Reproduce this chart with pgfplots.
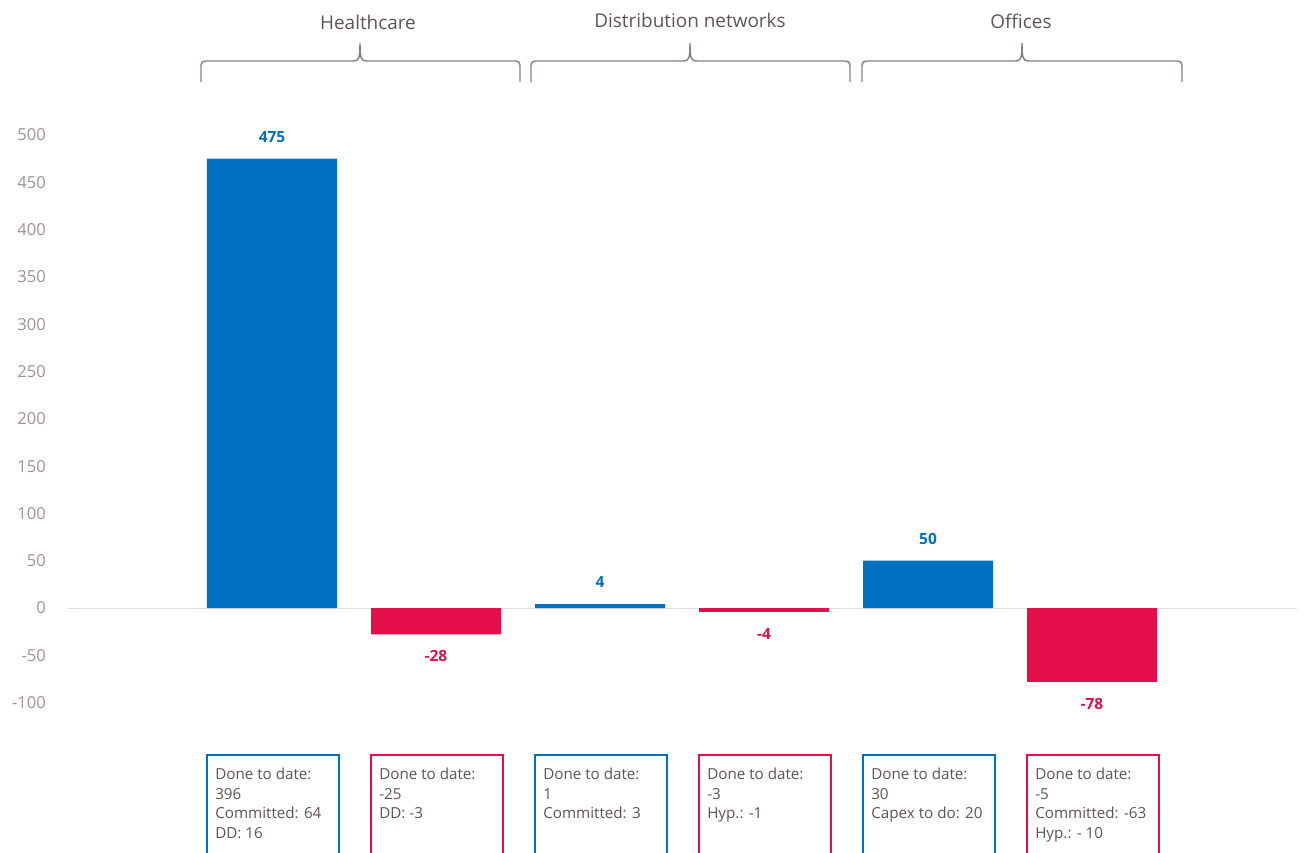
\documentclass[border=0pt]{standalone}
\usepackage{pgfplots}
\pgfplotsset{compat=1.18}
\usepackage{fontspec}
\setmainfont{Open Sans}
\definecolor{cblue}{HTML}{0070C0}
\definecolor{cred}{HTML}{E30E4A}
\definecolor{ctick}{HTML}{A0938F}
\definecolor{ctext}{HTML}{5E5452}
\definecolor{cbrace}{HTML}{8C807C}
\definecolor{czero}{HTML}{E3DEDD}
\newcommand\boxfont{\fontsize{11.4}{14.6}\selectfont}
\newcommand\infobox[3]{%
  \draw[#2, line width=0.8pt] ({#1-65},880) -- ({#1-65},755) -- ({#1+67},755) -- ({#1+67},880);
  \node[anchor=north west, inner sep=0pt, align=left, text=ctext, font=\boxfont] at ({#1-57},768) {#3};
}
\newcommand\catbrace[3]{%
  \draw[cbrace, line width=1.1pt, rounded corners=3pt] (#1,82) -- (#1,61) -- ({#2-6},61);
  \draw[cbrace, line width=1.1pt] ({#2-6.5},61) .. controls ({#2-1},61) and ({#2},58) .. (#2,43)
     .. controls ({#2},58) and ({#2+1},61) .. ({#2+6.5},61);
  \draw[cbrace, line width=1.1pt, rounded corners=3pt] ({#2+6},61) -- (#3,61) -- (#3,82);
}
\begin{document}
\begin{tikzpicture}
\begin{axis}[
  at={(50.25pt,-526.95pt)}, anchor=south west,
  scale only axis, width=922.5pt, height=425.7pt,
  xmin=-1.25, xmax=6.25, ymin=-100, ymax=500,
  ytick={-100,-50,...,500}, xtick=\empty,
  axis line style={draw=none}, major tick length=0pt,
  yticklabel style={font=\fontsize{12.4}{14}\selectfont, text=ctick, inner sep=0pt, anchor=east, xshift=-15.75pt},
  /pgf/number format/assume math mode=true,
  extra y ticks={0}, extra y tick labels={},
  extra y tick style={grid=major, major grid style={czero, line width=0.75pt}},
  ybar, bar width=97.5pt,
  nodes near coords,
  every node near coord/.append style={font=\bfseries\fontsize{11.6}{14}\selectfont, inner sep=0pt, inner ysep=12pt},
  clip=false,
]
\addplot[fill=cblue, draw=none, bar shift=0pt, every node near coord/.append style={text=cblue}]
  coordinates {(0,475) (2,4) (4,50)};
\addplot[fill=cred, draw=none, bar shift=0pt, every node near coord/.append style={text=cred}]
  coordinates {(1,-28) (3,-4) (5,-78)};
\end{axis}
\begin{scope}[x=0.75pt, y=-0.75pt]
  \catbrace{201}{360}{520}
  \catbrace{531}{690}{850}
  \catbrace{862}{1022}{1182}
  \node[font=\fontsize{14.2}{16}\selectfont, text=ctext] at (368,22) {Healthcare};
  \node[font=\fontsize{14.2}{16}\selectfont, text=ctext] at (690,20) {Distribution networks};
  \node[font=\fontsize{14.2}{16}\selectfont, text=ctext] at (1021,21) {Offices};
  \infobox{272}{cblue}{Done to date:\\396\\Committed: 64\\DD: 16}
  \infobox{436}{cred}{Done to date:\\-25\\DD: -3}
  \infobox{600}{cblue}{Done to date:\\1\\Committed: 3}
  \infobox{764}{cred}{Done to date:\\-3\\Hyp.: -1}
  \infobox{928}{cblue}{Done to date:\\30\\Capex to do: 20}
  \infobox{1092}{cred}{Done to date:\\-5\\Committed: -63\\Hyp.: - 10}
\end{scope}
\pgfresetboundingbox
\path[use as bounding box] (0,0) rectangle (978pt,-639.75pt);
\end{tikzpicture}
\end{document}
